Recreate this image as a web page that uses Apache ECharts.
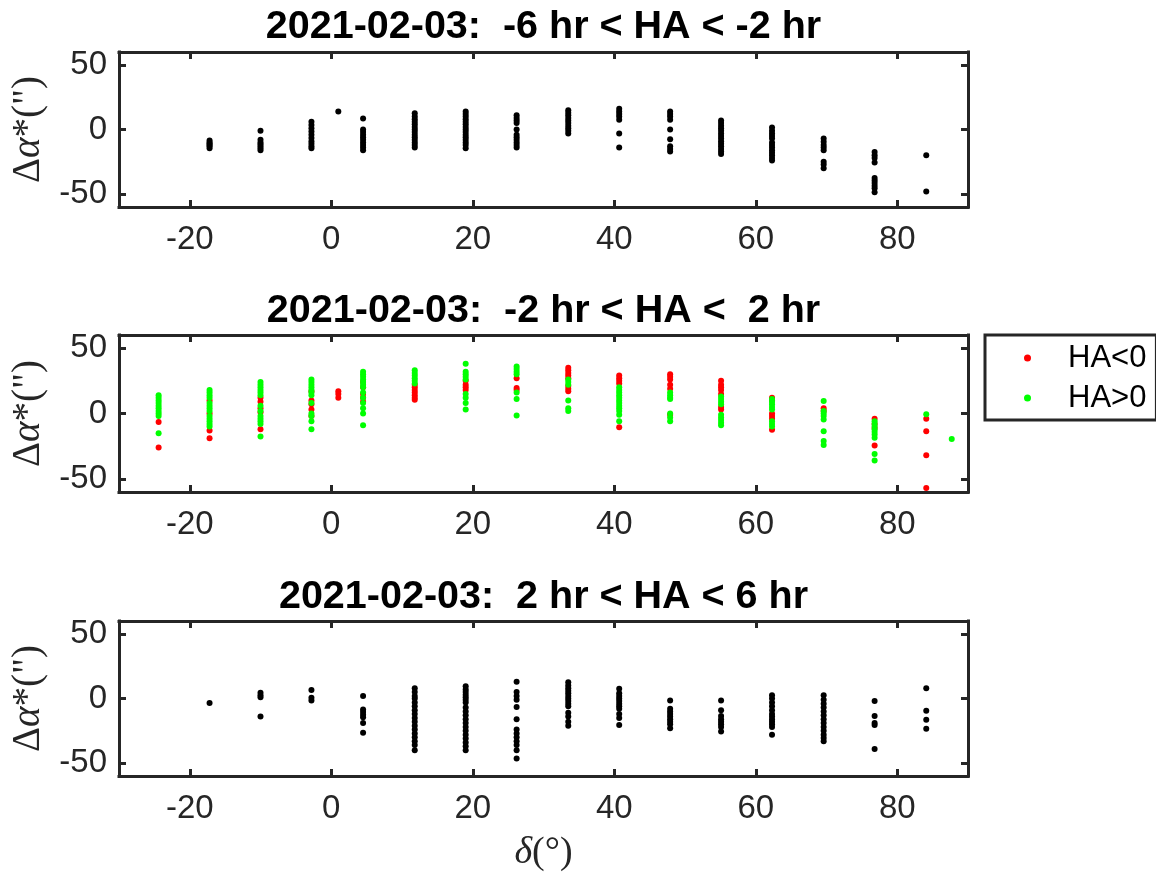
<!DOCTYPE html>
<html>
<head>
<meta charset="utf-8">
<script src="https://cdn.jsdelivr.net/npm/echarts@6/dist/echarts.min.js"></script>
<style>
  html, body { margin: 0; padding: 0; background: #ffffff; }
  #chart { width: 1156px; height: 888px; }
</style>
</head>
<body>
<div id="chart"></div>
<script>
// Declination columns (degrees) of the observed star fields
const declination = [-24.4, -17.2, -10.0, -2.8, 1.0, 4.5, 11.8, 19.0, 26.2, 33.5, 40.7, 47.9, 55.1, 62.3, 69.6, 76.8, 84.1, 87.7];

const xTicks = [-20, 0, 20, 40, 60, 80];
const yTicks = [-50, 0, 50];

const panelTitles = [
  '2021-02-03:  -6 hr < HA < -2 hr',
  '2021-02-03:  -2 hr < HA <  2 hr',
  '2021-02-03:  2 hr < HA < 6 hr'
];

// Δα* residuals (arcsec), one list per declination column
const earlyHA = [
  [],
  [-8.5, -10, -11, -12, -13, -14.5],
  [-1, -8, -10, -11.5, -13, -14.5, -16],
  [6, 3.5, 1, -1.5, -4, -6.5, -9, -11, -13, -14.5],
  [14],
  [8.5, 0, -2, -4, -6, -8, -10, -12, -14, -16],
  [12.5, 10, 8, 6, 4, 2, 0, -2, -4, -6, -8, -10, -12, -14],
  [14, 12, 10, 8, 6, 4, 2, 0, -2, -4, -6, -8, -10, -12, -14.5],
  [11, 9, 7, 5, 0, -4, -6, -8, -10, -12, -14],
  [15, 13, 11, 9, 7, 5, 3, 1, -1, -3],
  [16, 14, 12, 10, 7.5, -3, -14],
  [14, 12, 10, 7.5, 0, -7.5, -13, -15, -17],
  [7, 5, 3, 1, -1, -3, -5, -7, -9, -11, -13, -15, -17, -19],
  [1.5, -1, -3, -5, -7, -10, -12, -14, -16, -18, -20, -22, -24],
  [-7, -9.5, -12, -14, -16, -25, -27, -30],
  [-17.5, -20, -22, -25.5, -37.5, -39.5, -41.5, -43.5, -45.5, -48.5],
  [-20, -48],
  []
];

const transitWest = [   // HA < 0
  [-6.5, -26],
  [10, 0, -13, -19],
  [12, 9, 4, 1, -12],
  [17, 10, 7, 3, -2],
  [17, 15, 12],
  [24, 20, 15, 12, 9],
  [22, 20, 18, 16, 14, 12, 10.5],
  [25, 22, 20, 18],
  [27, 19.5, 18],
  [35, 33, 31, 29, 27, 21, 19, 17],
  [29, 27, 25, 23, -10.5],
  [30, 28, 26, 22, 19, -1],
  [25, 22, 20, 18, 15, 5, 3],
  [12, 10, 0, -2, -4, -12.5],
  [4, 2],
  [-4, -8, -11, -24.5],
  [-4, -13.5, -32, -57],
  []
];

const transitEast = [   // HA > 0
  [14, 12, 10, 8, 6, 4, 2, 0, -2, -15],
  [18, 16, 14, 12, 8, 6, 4, 2, -2, -4, -6, -8, -10],
  [24, 22, 20, 18, 16, 14, 6, 2, -2, -4, -6, -8, -17.5],
  [26, 24, 22, 20, 18, 16, 14, 8, 0, -2, -6, -12],
  [],
  [32, 30, 28, 26, 24, 22, 20, 16, 12, 8, 4, 0, -9],
  [33, 31, 29, 27, 25, 23],
  [38, 32, 30, 28, 26, 15, 12, 8, 3],
  [36, 34, 32, 30, 16, 11, -1.5],
  [26, 24, 22, 10, 4, 2],
  [20, 18, 16, 14, 12, 10, 8, 6, 4, 2, -1, -6],
  [16, 14, 12, 11, 0, -3, -6],
  [13, 11, 9, 7, -1, -3, -5, -7, -9],
  [11, 9, 7, 5, 3, -6, -8, -10],
  [9.5, 2, 0, -2, -4.5, -13.5, -21, -24],
  [-6, -8, -10, -12, -14, -16, -18.5, -31, -36],
  [-0.5],
  [-19.5]
];

const lateHA = [
  [],
  [-3.5],
  [4.5, 2.5, 1, -14],
  [6.5, 0.5, -1.5],
  [],
  [2, -8.5, -10.5, -12.5, -14.5, -19, -26.5],
  [8, 5, 2, 0, -3, -6, -9, -12, -15, -18, -21, -24, -27, -30, -33, -36, -40],
  [9.5, 7, 5, 3, 1, -1, -3, -7, -10, -13, -16, -19, -22, -25, -28, -31, -34, -37, -40],
  [13, 5, 2, -1, -6.5, -16, -24, -27, -30, -33, -36, -40, -46.5],
  [12.5, 10, 8, 6, 4, 2, 0, -2, -4, -6, -11, -14, -18, -21],
  [7.5, 4, 2, 0, -2, -4, -6, -8, -12, -15, -20.5],
  [-1.5, -8, -10, -12, -14, -16, -18, -20, -23],
  [-1.5, -9, -13.5, -16, -18, -20, -22, -25.5],
  [2.5, 0, -3, -6, -9, -12, -14, -16, -18, -20, -22, -28],
  [2.5, -1, -4, -7, -10, -13, -16, -19, -22, -25, -28, -30.5, -33],
  [-2, -13.5, -19, -20.5, -39],
  [8, -9.5, -16.5, -23.5],
  []
];

// Flatten per-column lists into [declination, value] pairs
function toPoints(columns) {
  const out = [];
  columns.forEach((vals, i) => vals.forEach(v => out.push([declination[i], v])));
  return out;
}

const SANS = '"Liberation Sans", Arial, Helvetica, sans-serif';
const SERIF = '"Liberation Serif", "DejaVu Serif", serif';
const AXIS_COLOR = '#262626';

const gridBoxes = [
  { left: 119, top: 52, width: 849, height: 155 },
  { left: 119, top: 335, width: 849, height: 157 },
  { left: 119, top: 621, width: 849, height: 155 }
];
const titleTops = [7, 291, 577];

const lineStyle = { color: AXIS_COLOR, width: 3, cap: 'square' };

const xAxes = [];
const yAxes = [];
gridBoxes.forEach((g, k) => {
  ['bottom', 'top'].forEach(pos => {
    const ax = {
      type: 'value', gridIndex: k, position: pos, min: -30, max: 90,
      axisLine: { show: true, onZero: false, lineStyle },
      axisTick: { show: true, inside: true, length: 7, customValues: xTicks, lineStyle: { color: AXIS_COLOR, width: 3 } },
      axisLabel: pos === 'bottom'
        ? { show: true, customValues: xTicks, fontSize: 33, color: AXIS_COLOR, fontFamily: SANS, margin: 16 }
        : { show: false },
      splitLine: { show: false }
    };
    if (pos === 'bottom' && k === 2) {
      ax.name = '{d|δ}{p|(°)}';
      ax.nameLocation = 'middle';
      ax.nameGap = 58;
      ax.nameTextStyle = {
        rich: {
          d: { fontFamily: SERIF, fontStyle: 'italic', fontSize: 38, color: AXIS_COLOR },
          p: { fontFamily: SERIF, fontSize: 38, color: AXIS_COLOR }
        }
      };
    }
    xAxes.push(ax);
  });
  ['left', 'right'].forEach(pos => {
    const ay = {
      type: 'value', gridIndex: k, position: pos, min: -60, max: 60,
      axisLine: { show: true, onZero: false, lineStyle },
      axisTick: { show: true, inside: true, length: 7, customValues: yTicks, lineStyle: { color: AXIS_COLOR, width: 3 } },
      axisLabel: pos === 'left'
        ? { show: true, customValues: yTicks, fontSize: 33, color: AXIS_COLOR, fontFamily: SANS, margin: 12 }
        : { show: false },
      splitLine: { show: false }
    };
    if (pos === 'left') {
      ay.name = '{g|Δ}{a|α}{g|*(")}';
      ay.nameLocation = 'middle';
      ay.nameGap = 70;
      ay.nameTextStyle = {
        rich: {
          g: { fontFamily: SERIF, fontSize: 39, color: AXIS_COLOR },
          a: { fontFamily: SERIF, fontStyle: 'italic', fontSize: 39, color: AXIS_COLOR }
        }
      };
    }
    yAxes.push(ay);
  });
});

function scatter(name, data, color, k) {
  return {
    name, type: 'scatter', xAxisIndex: 2 * k, yAxisIndex: 2 * k,
    data, symbol: 'circle', symbolSize: 6,
    itemStyle: { color, opacity: 1 },
    emphasis: { disabled: true },
    animation: false
  };
}

const option = {
  backgroundColor: '#ffffff',
  animation: false,
  title: panelTitles.map((t, k) => ({
    text: t, left: 543.5, top: titleTops[k], textAlign: 'center', padding: 0,
    textStyle: { fontSize: 39.5, fontWeight: 'bold', color: '#000000', fontFamily: SANS }
  })),
  legend: {
    data: ['HA<0', 'HA>0'],
    orient: 'vertical',
    left: 985, top: 335,
    padding: [6, 10, 5, 39],
    itemGap: 6,
    itemWidth: 7, itemHeight: 7,
    icon: 'circle',
    borderColor: AXIS_COLOR, borderWidth: 3,
    backgroundColor: '#ffffff',
    selectedMode: false,
    textStyle: { fontSize: 31, color: '#000000', fontFamily: SANS, padding: [0, 0, 0, 32], lineHeight: 34 }
  },
  grid: gridBoxes.map(g => Object.assign({ containLabel: false }, g)),
  xAxis: xAxes,
  yAxis: yAxes,
  series: [
    scatter('early', toPoints(earlyHA), '#000000', 0),
    scatter('HA<0', toPoints(transitWest), '#ff0000', 1),
    scatter('HA>0', toPoints(transitEast), '#00ff00', 1),
    scatter('late', toPoints(lateHA), '#000000', 2)
  ]
};

const chart = echarts.init(document.getElementById('chart'), null, { renderer: 'canvas' });
chart.setOption(option);
</script>
</body>
</html>
